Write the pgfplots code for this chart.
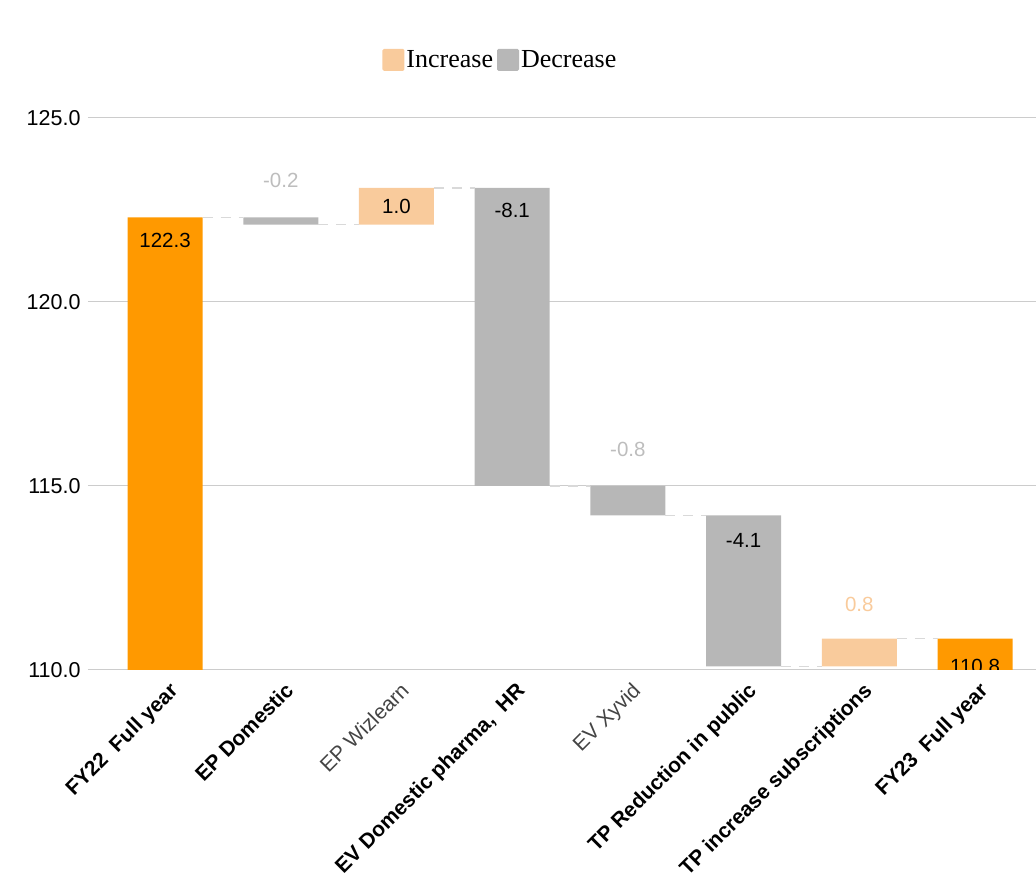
\documentclass[border=0pt]{standalone}
\usepackage{pgfplots}
\pgfplotsset{compat=1.18}
\usepackage{fontspec}
\setmainfont{Liberation Sans}
\newfontfamily\legendfont{Liberation Serif}
\definecolor{orange1}{HTML}{FF9900}
\definecolor{lorange}{HTML}{F9CB9C}
\definecolor{gbar}{HTML}{B7B7B7}
\definecolor{gridc}{HTML}{CCCCCC}
\definecolor{conn}{HTML}{D9D9D9}
\definecolor{lbl}{HTML}{BDBDBD}
\definecolor{dg}{HTML}{444444}
\begin{document}
\begin{tikzpicture}
\path[use as bounding box] (-88pt,-212pt) rectangle (948pt,670pt);
\begin{axis}[
  scale only axis, width=948pt, height=552pt,
  xmin=-0.666, xmax=7.527, ymin=110, ymax=125,
  ybar stacked, bar width=0.648,
  axis line style={draw=none},
  major tick length=0pt,
  ymajorgrids, grid style={gridc, line width=1pt},
  ytick={110,115,120,125},
  yticklabel style={font=\fontsize{21.5}{23}\selectfont, /pgf/number format/fixed, /pgf/number format/fixed zerofill, /pgf/number format/precision=1, /pgf/number format/assume math mode=true, xshift=-4pt},
  xtick={0,...,7},
  xticklabels={{\textbf{FY22\ \ Full year}},{\textbf{EP Domestic}},{\color{dg}EP Wizlearn},{\textbf{EV Domestic pharma,\ \ HR}},{\color{dg}EV Xyvid},{\textbf{TP Reduction in public}},{\textbf{TP increase subscriptions}},{\textbf{FY23\ \ Full year}}},
  xticklabel style={font=\fontsize{21}{23}\selectfont, xshift=3pt, yshift=-11pt, rotate=45, anchor=north east, inner sep=0pt},
  legend style={at={(0.435,1)}, yshift=58pt, anchor=center, draw=none, fill=none, legend columns=2, font=\legendfont\fontsize{26}{28}\selectfont, inner sep=0pt, /tikz/every even column/.append style={column sep=2pt}},
  legend image code/.code={\fill[#1, rounded corners=1.5pt] (0pt,-11pt) rectangle (22pt,11pt);},
]
\addlegendimage{fill=lorange, draw=none}
\addlegendentry{Increase}
\addlegendimage{fill=gbar, draw=none}
\addlegendentry{Decrease}
% invisible base
\addplot[draw=none, fill=none] coordinates {(0,0) (1,122.1) (2,122.1) (3,115.0) (4,114.2) (5,110.1) (6,110.1) (7,0)};
% totals
\addplot[draw=none, fill=orange1] coordinates {(0,122.3) (1,0) (2,0) (3,0) (4,0) (5,0) (6,0) (7,110.85)};
% increases
\addplot[draw=none, fill=lorange] coordinates {(0,0) (1,0) (2,1.0) (3,0) (4,0) (5,0) (6,0.75) (7,0)};
% decreases
\addplot[draw=none, fill=gbar] coordinates {(0,0) (1,0.2) (2,0) (3,8.1) (4,0.8) (5,4.1) (6,0) (7,0)};
\end{axis}
\begin{axis}[
  scale only axis, width=948pt, height=552pt,
  xmin=-0.666, xmax=7.527, ymin=110, ymax=125,
  hide axis,
]
\pgfplotsset{every axis plot/.append style={conn, line width=1.2pt, dash pattern=on 10pt off 8pt}}
\addplot[mark=none] coordinates {(0.324,122.3) (0.676,122.3)};
\addplot[mark=none] coordinates {(1.324,122.1) (1.676,122.1)};
\addplot[mark=none] coordinates {(2.324,123.1) (2.676,123.1)};
\addplot[mark=none] coordinates {(3.324,115.0) (3.676,115.0)};
\addplot[mark=none] coordinates {(4.324,114.2) (4.676,114.2)};
\addplot[mark=none] coordinates {(5.324,110.1) (5.676,110.1)};
\addplot[mark=none] coordinates {(6.324,110.85) (6.676,110.85)};
\begin{scope}[every node/.style={font=\fontsize{20.5}{22}\selectfont}]
\node[text=black] at (axis cs:0,121.66) {122.3};
\node[text=lbl] at (axis cs:1,123.29) {-0.2};
\node[text=black] at (axis cs:2,122.6) {1.0};
\node[text=black] at (axis cs:3,122.5) {-8.1};
\node[text=lbl] at (axis cs:4,115.98) {-0.8};
\node[text=black] at (axis cs:5,113.53) {-4.1};
\node[text=lorange] at (axis cs:6,111.79) {0.8};
\node[text=black] at (axis cs:7,110.1) {110.8};
\end{scope}
\end{axis}
\end{tikzpicture}
\end{document}
